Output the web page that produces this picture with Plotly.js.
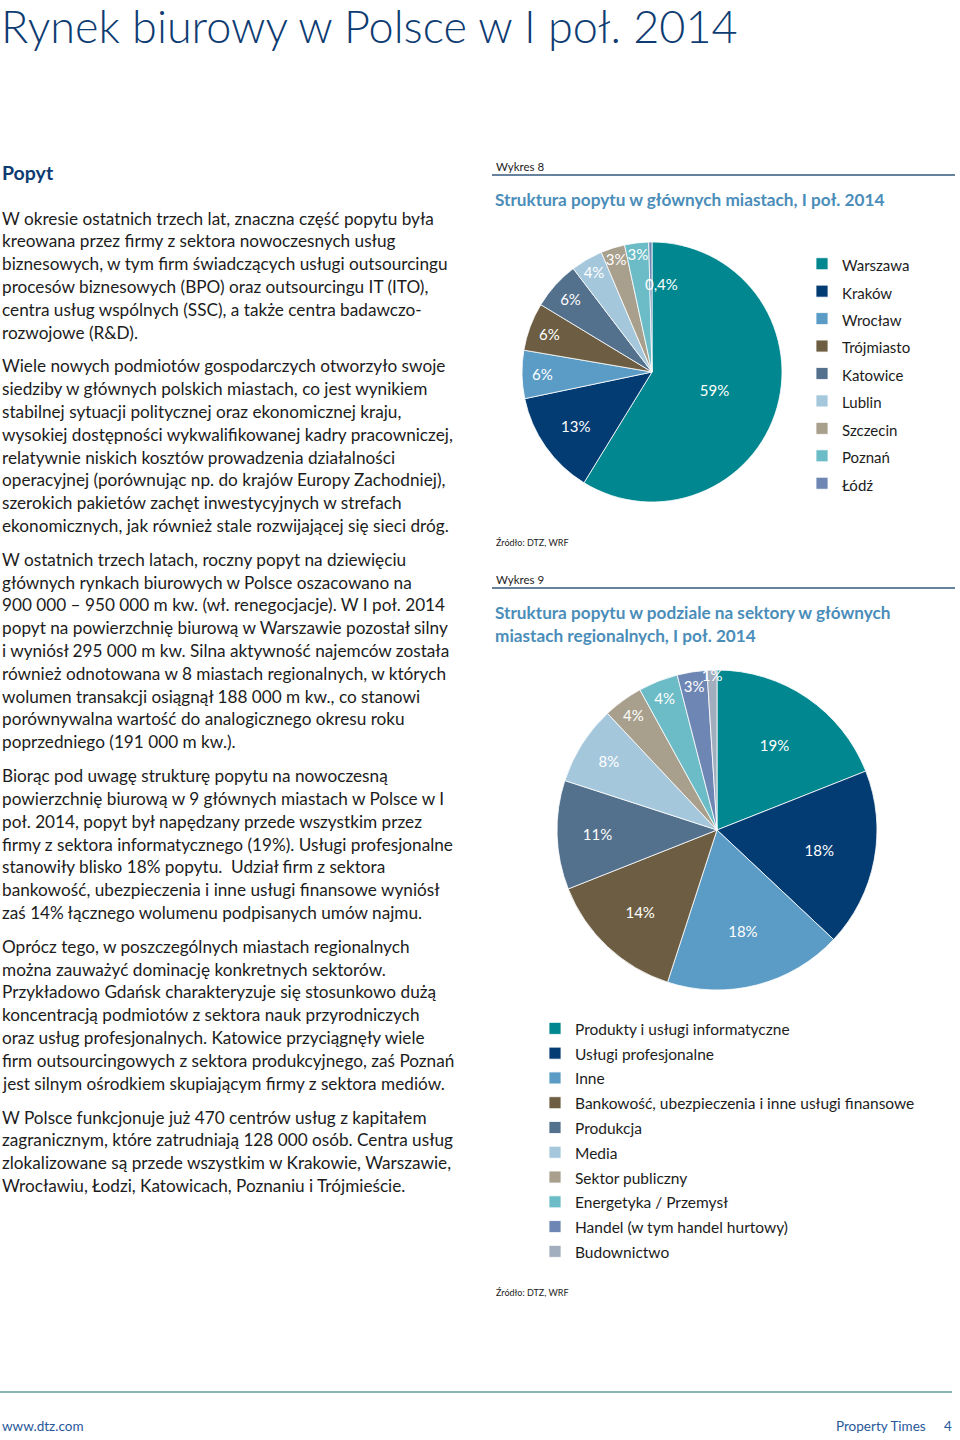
<!DOCTYPE html>
<html><head><meta charset="utf-8">
<script src="https://cdn.plot.ly/plotly-3.0.1.min.js"></script>
<style>html,body{margin:0;padding:0;background:#fff;} #chart{width:960px;height:1440px;}</style>
</head><body><div id="chart"></div>
<script>
// ---- data ----
const cities = ['Warszawa','Kraków','Wrocław','Trójmiasto','Katowice','Lublin','Szczecin','Poznań','Łódź'];
const cityShare = [59,13,6,6,6,4,3,3,0.4];
const cityLabels = ['59%','13%','6%','6%','6%','4%','3%','3%','0,4%'];
const sectors = ['Produkty i usługi informatyczne','Usługi profesjonalne','Inne','Bankowość, ubezpieczenia i inne usługi finansowe','Produkcja','Media','Sektor publiczny','Energetyka / Przemysł','Handel (w tym handel hurtowy)','Budownictwo'];
const sectorShare = [19,18,18,14,11,8,4,4,3,1];
const sectorLabels = ['19%','18%','18%','14%','11%','8%','4%','4%','3%','1%'];
const palette = ['#00878F','#033C73','#5A9CC5','#6D5E43','#53708C','#A5C7DC','#A89F8D','#6BBCC6','#6E86B4','#A2ADBD'];

const pageTitle = 'Rynek biurowy w Polsce w I poł. 2014';
const sectionTitle = 'Popyt';
const paragraphs = [
 ['W okresie ostatnich trzech lat, znaczna część popytu była',
  'kreowana przez firmy z sektora nowoczesnych usług',
  'biznesowych, w tym firm świadczących usługi outsourcingu',
  'procesów biznesowych (BPO) oraz outsourcingu IT (ITO),',
  'centra usług wspólnych (SSC), a także centra badawczo-',
  'rozwojowe (R&amp;D).'],
 ['Wiele nowych podmiotów gospodarczych otworzyło swoje',
  'siedziby w głównych polskich miastach, co jest wynikiem',
  'stabilnej sytuacji politycznej oraz ekonomicznej kraju,',
  'wysokiej dostępności wykwalifikowanej kadry pracowniczej,',
  'relatywnie niskich kosztów prowadzenia działalności',
  'operacyjnej (porównując np. do krajów Europy Zachodniej),',
  'szerokich pakietów zachęt inwestycyjnych w strefach',
  'ekonomicznych, jak również stale rozwijającej się sieci dróg.'],
 ['W ostatnich trzech latach, roczny popyt na dziewięciu',
  'głównych rynkach biurowych w Polsce oszacowano na',
  '900 000 – 950 000 m kw. (wł. renegocjacje). W I poł. 2014',
  'popyt na powierzchnię biurową w Warszawie pozostał silny',
  'i wyniósł 295 000 m kw. Silna aktywność najemców została',
  'również odnotowana w 8 miastach regionalnych, w których',
  'wolumen transakcji osiągnął 188 000 m kw., co stanowi',
  'porównywalna wartość do analogicznego okresu roku',
  'poprzedniego (191 000 m kw.).'],
 ['Biorąc pod uwagę strukturę popytu na nowoczesną',
  'powierzchnię biurową w 9 głównych miastach w Polsce w I',
  'poł. 2014, popyt był napędzany przede wszystkim przez',
  'firmy z sektora informatycznego (19%). Usługi profesjonalne',
  'stanowiły blisko 18% popytu.&nbsp; Udział firm z sektora',
  'bankowość, ubezpieczenia i inne usługi finansowe wyniósł',
  'zaś 14% łącznego wolumenu podpisanych umów najmu.'],
 ['Oprócz tego, w poszczególnych miastach regionalnych',
  'można zauważyć dominację konkretnych sektorów.',
  'Przykładowo Gdańsk charakteryzuje się stosunkowo dużą',
  'koncentracją podmiotów z sektora nauk przyrodniczych',
  'oraz usług profesjonalnych. Katowice przyciągnęły wiele',
  'firm outsourcingowych z sektora produkcyjnego, zaś Poznań',
  'jest silnym ośrodkiem skupiającym firmy z sektora mediów.'],
 ['W Polsce funkcjonuje już 470 centrów usług z kapitałem',
  'zagranicznym, które zatrudniają 128 000 osób. Centra usług',
  'zlokalizowane są przede wszystkim w Krakowie, Warszawie,',
  'Wrocławiu, Łodzi, Katowicach, Poznaniu i Trójmieście.']
];
const chart1Tag = 'Wykres 8';
const chart1Title = 'Struktura popytu w głównych miastach, I poł. 2014';
const chart2Tag = 'Wykres 9';
const chart2Title = ['Struktura popytu w podziale na sektory w głównych','miastach regionalnych, I poł. 2014'];
const sourceText = 'Źródło: DTZ, WRF';
const footerLeft = 'www.dtz.com';
const footerRight = 'Property Times';
const pageNo = '4';

// ---- layout helpers ----
const W = 960, H = 1440;
const FONT = 'Lato, "Open Sans", sans-serif';
const px = x => x / W;
const py = y => 1 - y / H;
const annotations = [];
function ann(text, x, y, size, color, extra) {
  annotations.push(Object.assign({
    text: text, xref: 'paper', yref: 'paper', x: px(x), y: py(y),
    xanchor: 'left', yanchor: 'middle', showarrow: false, align: 'left',
    font: {family: FONT, size: size, color: color}, borderpad: 0
  }, extra || {}));
}

// page header
ann(pageTitle, 0, 26, 45, '#0E3C72', {font:{family:FONT, size:45, color:'#0E3C72', weight:300}});
ann('<b>' + sectionTitle + '</b>', 1, 172, 19.5, '#0E3C72');

// body paragraphs
const BODY = 17.2, LH = 22.8, PGAP = 33.9;
let yy = 218;
paragraphs.forEach((lines) => {
  lines.forEach((line, li) => {
    ann(line, 1, yy, BODY, '#1C1C1C');
    if (li < lines.length - 1) yy += LH;
  });
  yy += PGAP;
});

// right column headings
ann(chart1Tag, 495, 166, 11.5, '#1C1C1C');
ann('<b>' + chart1Title + '</b>', 494, 199, 17.2, '#4B8DB9');
ann(sourceText, 495, 542, 9, '#1C1C1C');
ann(chart2Tag, 495, 579, 11.5, '#1C1C1C');
ann('<b>' + chart2Title[0] + '</b>', 494, 612, 17.2, '#4B8DB9');
ann('<b>' + chart2Title[1] + '</b>', 494, 635, 17.2, '#4B8DB9');
ann(sourceText, 495, 1292, 9, '#1C1C1C');

// footer
ann(footerLeft, 1, 1426, 13.5, '#27589A');
ann(footerRight, 927, 1426, 13.5, '#27589A', {xanchor:'right'});
ann(pageNo, 953, 1426, 13.5, '#27589A', {xanchor:'right'});

// pie geometry
const P1 = {cx: 652, cy: 372, r: 130};
const P2 = {cx: 717, cy: 830, r: 160};

// label of the thinnest slice (Łódź), placed from its own angle in the data
(function () {
  const total = cityShare.reduce((a, b) => a + b, 0);
  const i = cities.length - 1;
  const before = cityShare.slice(0, i).reduce((a, b) => a + b, 0);
  const th = 2 * Math.PI * (before + cityShare[i] / 2) / total;
  const k = 0.68;
  const x = P1.cx + P1.r * k * Math.sin(th);
  const y = P1.cy - P1.r * k * Math.cos(th);
  ann(cityLabels[i], x - 7, y, 15, '#ffffff');
})();

const shapes = [
  {type:'line', xref:'paper', yref:'paper', x0:px(492), x1:px(955), y0:py(175), y1:py(175), line:{color:'#35597B', width:1.5}},
  {type:'line', xref:'paper', yref:'paper', x0:px(492), x1:px(955), y0:py(588), y1:py(588), line:{color:'#35597B', width:1.5}},
  {type:'line', xref:'paper', yref:'paper', x0:px(0), x1:px(952), y0:py(1392), y1:py(1392), line:{color:'#5E9B9C', width:1.5}}
];

const span = sz => s => '<span style="font-size:' + sz + 'px">' + s + '</span>';
const cityPos = cities.map((c, i) => i === cities.length - 1 ? 'none' : 'inside');

const traces = [
  {
    type:'pie', labels: cities.map(span(15)), values: cityShare, text: cityLabels,
    textinfo:'text', textposition: cityPos, insidetextorientation:'horizontal',
    sort:false, direction:'clockwise', rotation:0,
    marker:{colors: palette.slice(0, cities.length), line:{color:'#ffffff', width:0.8}},
    insidetextfont:{family:FONT, size:15, color:'#ffffff'},
    domain:{x:[px(P1.cx - P1.r), px(P1.cx + P1.r)], y:[py(P1.cy + P1.r), py(P1.cy - P1.r)]},
    legend:'legend', hoverinfo:'percent'
  },
  {
    type:'pie', labels: sectors.map(span(15.5)), values: sectorShare, text: sectorLabels,
    textinfo:'text', textposition:'inside', insidetextorientation:'horizontal',
    sort:false, direction:'clockwise', rotation:0,
    marker:{colors: palette.slice(0, sectors.length), line:{color:'#ffffff', width:0.8}},
    insidetextfont:{family:FONT, size:15, color:'#ffffff'},
    domain:{x:[px(P2.cx - P2.r), px(P2.cx + P2.r)], y:[py(P2.cy + P2.r), py(P2.cy - P2.r)]},
    legend:'legend2', hoverinfo:'percent'
  }
];

const layout = {
  width: W, height: H, margin:{l:0, r:0, t:0, b:0},
  paper_bgcolor:'#ffffff', plot_bgcolor:'#ffffff',
  font:{family: FONT, color:'#1C1C1C'},
  showlegend: true,
  uniformtext:{mode:'show', minsize:15},
  legend:{x:px(802), y:py(245), xanchor:'left', yanchor:'top', bgcolor:'rgba(0,0,0,0)',
          font:{family:FONT, size:18.8, color:'#1C1C1C'}, traceorder:'normal'},
  legend2:{x:px(535), y:py(1011), xanchor:'left', yanchor:'top', bgcolor:'rgba(0,0,0,0)',
          font:{family:FONT, size:16.75, color:'#1C1C1C'}, traceorder:'normal'},
  annotations: annotations,
  shapes: shapes
};

Plotly.newPlot('chart', traces, layout, {displayModeBar:false, staticPlot:true});
</script>
</body></html>
